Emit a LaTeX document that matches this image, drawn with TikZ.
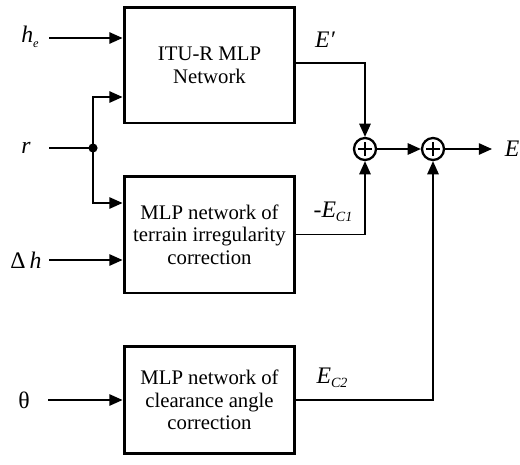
\documentclass[tikz,border=0pt]{standalone}
\usepackage{fontspec}
\setmainfont{Liberation Serif}
\usetikzlibrary{arrows.meta,calc}
\tikzset{
    blk/.style={draw, line width=1.7pt, minimum width=3.42cm, align=center,
        font=\fontsize{11.8}{12.9}\selectfont},
    lbl/.style={font=\fontsize{13.5}{15}\selectfont, inner sep=0pt},
    sumnode/.style={draw, circle, line width=1.3pt, minimum size=0.44cm, inner sep=0pt,
        path picture={
            \draw[line width=0.8pt] ($(path picture bounding box.center)+(-0.14cm,0cm)$) -- ($(path picture bounding box.center)+(0.14cm,0cm)$);
            \draw[line width=0.8pt] ($(path picture bounding box.center)+(0cm,-0.14cm)$) -- ($(path picture bounding box.center)+(0cm,0.14cm)$);
        }},
    arr/.style={line width=0.85pt, -{Triangle[length=7.5pt,width=6.5pt]}},
    ln/.style={line width=0.85pt}
}
\begin{document}
\begin{tikzpicture}[x=0.02cm, y=-0.02cm]
    \useasboundingbox (0,0) rectangle (520,464);
    % Blocks
    \node[blk, minimum height=2.32cm] (itu) at (209.5,65) {ITU-R MLP\\Network};
    \node[blk, minimum height=2.34cm] (ter) at (209.5,234.5) {MLP network of\\terrain irregularity\\correction};
    \node[blk, minimum height=2.14cm] (clr) at (209.5,400) {MLP network of\\clearance angle\\correction};
    % Summing junctions
    \node[sumnode] (s1) at (365,149) {};
    \node[sumnode] (s2) at (433,149) {};
    % Input labels
    \node[lbl] (he) at (30,37) {\itshape h\raisebox{-0.4ex}{\fontsize{7}{8}\selectfont e}};
    \node[lbl] (r) at (26,148) {\itshape r};
    \node[lbl] (dh) at (26,260) {Δ\,\itshape h};
    \node[lbl] (th) at (24,400) {θ};
    \node[lbl] (E) at (512,149) {\itshape E};
    % Output labels
    \node[lbl] (Ep) at (325,40) {\itshape E′};
    \node[lbl] (Ec1) at (333,212) {-\itshape E\raisebox{-0.4ex}{\fontsize{8}{9}\selectfont C1}};
    \node[lbl] (Ec2) at (332,378) {\itshape E\raisebox{-0.4ex}{\fontsize{8}{9}\selectfont C2}};
    % Input points
    \coordinate (heS) at (49,38);
    \coordinate (rS) at (49,148);
    \coordinate (dhS) at (49,260);
    \coordinate (thS) at (48,400);
    \coordinate (dot) at (93,148);
    \coordinate (Eend) at (492,149);
    % Inputs
    \draw[arr] (heS) -- (heS -| itu.west);
    \draw[ln] (rS) -- (dot);
    \fill (dot) circle (2.6pt);
    \draw[arr] (dot) |- ($(itu.west)+(0,32)$);
    \draw[arr] (dot) |- ($(ter.west)+(0,-31.5)$);
    \draw[arr] (dhS) -- (dhS -| ter.west);
    \draw[arr] (thS) -- (thS -| clr.west);
    % Outputs
    \draw[arr] ($(itu.east)+(0,-2)$) -| (s1.north);
    \draw[arr] (ter.east) -| (s1.south);
    \draw[arr] (clr.east) -| (s2.south);
    \draw[arr] (s1) -- (s2);
    \draw[arr] (s2) -- (Eend);
\end{tikzpicture}
\end{document}
